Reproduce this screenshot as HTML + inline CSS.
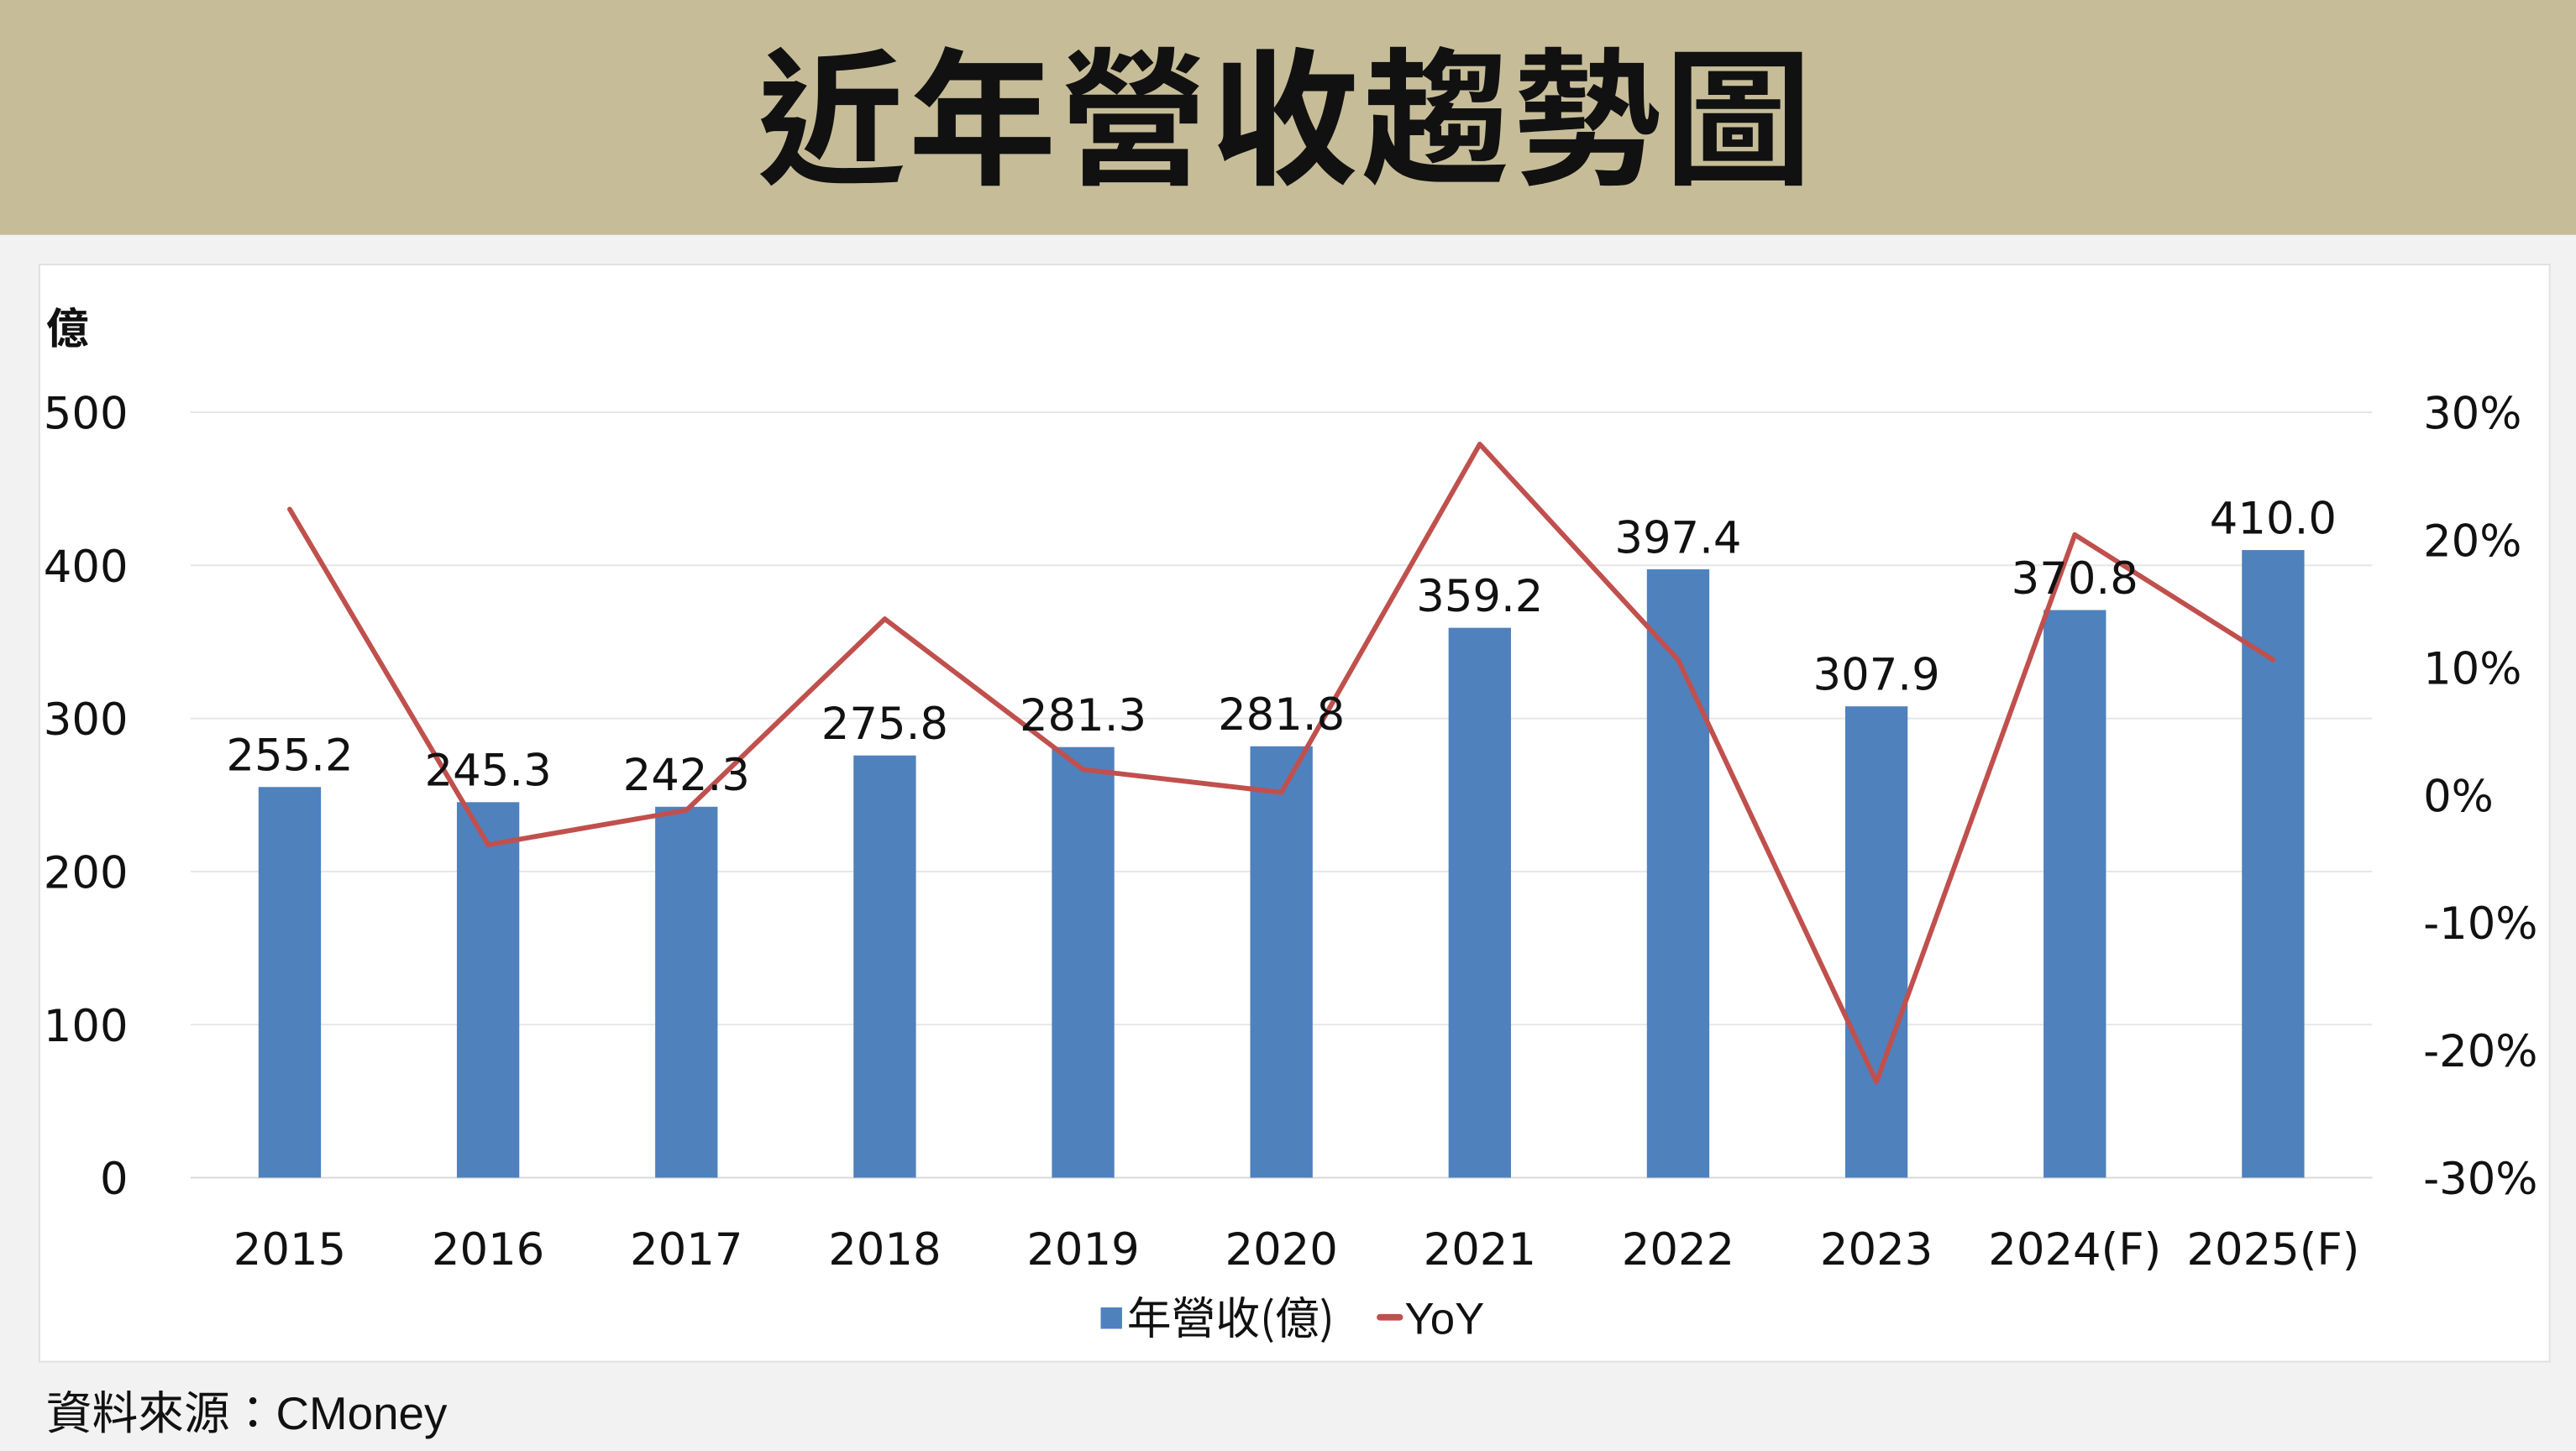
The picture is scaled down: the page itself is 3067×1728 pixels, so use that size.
<!DOCTYPE html>
<html><head><meta charset="utf-8"><style>
html,body{margin:0;padding:0;background:#f2f2f2;}
svg{display:block;}
text{font-family:"DejaVu Sans","Noto Sans CJK TC",sans-serif;}
</style></head><body>
<svg id="chart" width="3067" height="1728" viewBox="0 0 1568 883.4" preserveAspectRatio="none" xmlns="http://www.w3.org/2000/svg">
<rect x="0" y="0" width="1568" height="884" fill="#f2f2f2"/>
<rect x="0" y="0" width="1568" height="143" fill="#c6bd98"/>
<text x="783" y="105" text-anchor="middle" font-size="90" font-weight="bold" fill="#111" style="font-family:'Noto Sans CJK TC',sans-serif" letter-spacing="2">近年營收趨勢圖</text>
<rect x="24" y="161" width="1528" height="668" fill="#fff" stroke="#e0e0e0" stroke-width="1"/>
<text x="28" y="209" font-size="26" font-weight="bold" fill="#111" style="font-family:'Noto Sans CJK TC',sans-serif">億</text>
<g id="grid"></g>
<g id="bars"></g>
<g id="line"></g>
<g id="labels"></g>
<g>
<rect x="670" y="796" width="13" height="13" fill="#4f81bd"/>
<text x="686" y="812" font-size="27" fill="#111" style="font-family:'Noto Sans CJK TC',sans-serif">年營收(億)</text>
<line x1="840" y1="802" x2="852" y2="802" stroke="#c0504d" stroke-width="4" stroke-linecap="round"/>
<text x="855" y="812" font-size="27" fill="#111" style="font-family:'Liberation Sans',sans-serif">YoY</text>
</g>
<text x="28" y="870" font-size="28" fill="#111" style="font-family:'Liberation Sans','Noto Sans CJK TC',sans-serif">資料來源：CMoney</text>
</svg>
<script>
const categories=["2015","2016","2017","2018","2019","2020","2021","2022","2023","2024(F)","2025(F)"];
const revenue=[255.2,245.3,242.3,275.8,281.3,281.8,359.2,397.4,307.9,370.8,410.0];
const yoy=[22.4,-3.9,-1.2,13.8,2.0,0.2,27.5,10.6,-22.5,20.4,10.6];
const leftTicks=[0,100,200,300,400,500];
const rightTicks=[-30,-20,-10,0,10,20,30];
const NS="http://www.w3.org/2000/svg";
const X0=116,X1=1444,YT=251,YB=717;
const band=(X1-X0)/categories.length;
const xc=i=>X0+band*(i+0.5);
const yL=v=>YB-(v/500)*(YB-YT);
const yR=v=>YB-((v+30)/60)*(YB-YT);
function mk(tag,attrs,parent,txt){const e=document.createElementNS(NS,tag);for(const k in attrs)e.setAttribute(k,attrs[k]);if(txt!==undefined)e.textContent=txt;parent.appendChild(e);return e;}
const grid=document.getElementById('grid'),bars=document.getElementById('bars'),line=document.getElementById('line'),labels=document.getElementById('labels');
leftTicks.forEach(t=>{
 const g=mk('line',{x1:X0,x2:X1,y1:yL(t),y2:yL(t),stroke:t===0?'#d9d9d9':'#e6e6e6','stroke-width':1},grid);
 
 
 const l=mk('text',{x:78,y:yL(t)+10,'text-anchor':'end','font-size':27,fill:'#111'},labels,String(t));
 
 
});
rightTicks.forEach(t=>{
 const l=mk('text',{x:1475,y:yR(t)+10,'font-size':27,fill:'#111'},labels,t+'%');
 
 
});
const bw=38;
categories.forEach((c,i)=>{
 const b=mk('rect',{x:xc(i)-bw/2,y:yL(revenue[i]),width:bw,height:YB-yL(revenue[i]),fill:'#4f81bd'},bars);
 
 
 const v=mk('text',{x:xc(i),y:yL(revenue[i])-10,'text-anchor':'middle','font-size':27,fill:'#111'},labels,revenue[i].toFixed(1));
 
 
 const xl=mk('text',{x:xc(i),y:770,'text-anchor':'middle','font-size':27,fill:'#111'},labels,c);
 
 
});
const pts=yoy.map((v,i)=>xc(i)+','+yR(v)).join(' ');
const pl=mk('polyline',{points:pts,fill:'none',stroke:'#c0504d','stroke-width':3,'stroke-linejoin':'round','stroke-linecap':'round'},line);


</script>
</body></html>
